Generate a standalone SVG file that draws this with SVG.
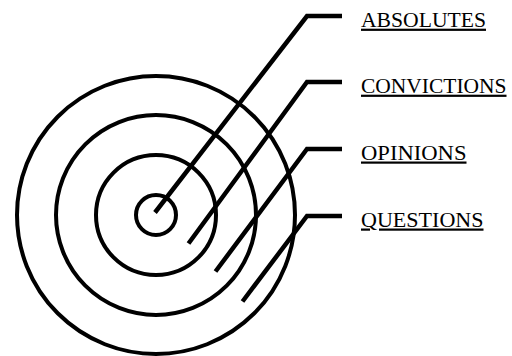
<svg xmlns="http://www.w3.org/2000/svg" width="512" height="356" viewBox="0 0 512 356">
<style>
.ring{fill:none;stroke:#000;stroke-width:4}
.conn{fill:none;stroke:#000;stroke-width:4.5;stroke-linejoin:miter;stroke-linecap:butt}
.lbl{font-family:"Liberation Serif","Times New Roman",serif;font-size:22px;fill:#000;text-decoration:underline}
</style>
<rect width="512" height="356" fill="#fff"/>
<g id="rings">
<circle id="ring-absolutes" class="ring" cx="156" cy="215" r="20"/>
<circle id="ring-convictions" class="ring" cx="156" cy="215" r="60"/>
<circle id="ring-opinions" class="ring" cx="156" cy="215" r="100"/>
<circle id="ring-questions" class="ring" cx="156" cy="215" r="139"/>
</g>
<g id="connectors">
<polyline class="conn" points="155,212.5 307,16 342,16"/>
<polyline class="conn" points="188.5,243.5 307,82 342,82"/>
<polyline class="conn" points="215.5,271.5 307,149 342,149"/>
<polyline class="conn" points="242.5,301.5 307,216 342,216"/>
</g>
<g id="label-absolutes"><text class="lbl" x="361" y="26.7" textLength="125" lengthAdjust="spacingAndGlyphs">ABSOLUTES</text></g>
<g id="label-convictions"><text class="lbl" x="361" y="92.7" textLength="145.5" lengthAdjust="spacingAndGlyphs">CONVICTIONS</text></g>
<g id="label-opinions"><text class="lbl" x="361" y="159.5" textLength="105.5" lengthAdjust="spacingAndGlyphs">OPINIONS</text></g>
<g id="label-questions"><text class="lbl" x="361" y="226.5" textLength="122.5" lengthAdjust="spacingAndGlyphs">QUESTIONS</text></g>
</svg>
